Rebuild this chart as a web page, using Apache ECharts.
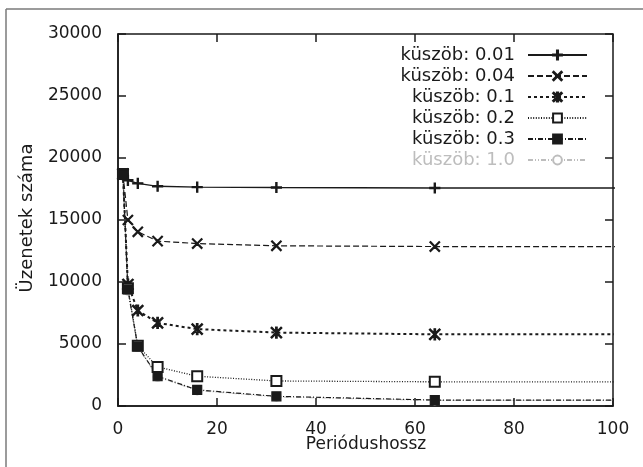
<!DOCTYPE html>
<html lang="hu">
<head>
    <meta charset="UTF-8">
    <title>Üzenetek száma</title>
    <script src="https://cdn.jsdelivr.net/npm/echarts@6/dist/echarts.min.js"></script>
    <style>
        body { margin: 0; background: #fff; }
        #main { width: 643px; height: 467px; }
    </style>
</head>
<body>
<div id="main"></div>
<script type="text/javascript">
// periódushossz (x) - az utolsó pont a 100-as határon túl van, le lesz vágva
let periods = [1, 2, 4, 8, 16, 32, 64, 128];
let names = ['küszöb: 0.01', 'küszöb: 0.04', 'küszöb: 0.1', 'küszöb: 0.2', 'küszöb: 0.3', 'küszöb: 1.0'];
let y001 = [18700, 18200, 17950, 17720, 17650, 17620, 17580, 17580];
let y004 = [18700, 15000, 14050, 13300, 13100, 12920, 12860, 12860];
let y01 = [18700, 9800, 7700, 6700, 6200, 5920, 5780, 5780];
let y02 = [18700, 9500, 4850, 3150, 2400, 2020, 1950, 1950];
let y03 = [18700, 9400, 4800, 2400, 1300, 780, 480, 480];
let y10 = [18700, 9300, 4750, 2350, 1250, 740, 450, 450];
let xTicks = [0, 20, 40, 60, 80, 100];
let yTicks = [0, 5000, 10000, 15000, 20000, 25000, 30000];
let xTitle = 'Periódushossz';
let yTitle = 'Üzenetek száma';

const xMax = 100, yMax = 30000;
const ink = '#1a1a1a';
const pale = '#bdbdbd';
const font = 'DejaVu Sans';
const tickLen = 8;

const plusSym = 'path://M4.4,0H5.6V10H4.4Z M0,4.4H10V5.6H0Z';
const crossSym = 'path://M0.7,0L5,4.3L9.3,0L10,0.7L5.7,5L10,9.3L9.3,10L5,5.7L0.7,10L0,9.3L4.3,5L0,0.7Z';
const starSym = 'path://M0.8,0L5,4.2L9.2,0L10,0.8L5.8,5L10,9.2L9.2,10L5,5.8L0.8,10L0,9.2L4.2,5L0,0.8Z M4.3,0H5.7V10H4.3Z';

function pairs(ys) {
    return periods.map(function (x, i) { return [x, ys[i]]; });
}

function mkSeries(name, ys, color, width, dash, symbol, size) {
    return {
        name: name,
        type: 'line',
        data: pairs(ys),
        clip: true,
        symbol: symbol,
        symbolSize: size,
        symbolKeepAspect: true,
        showAllSymbol: true,
        lineStyle: { color: color, width: width, type: dash },
        itemStyle: { color: color, borderColor: color, borderWidth: 1.2 },
        animation: false
    };
}

let myChart = echarts.init(document.getElementById('main'));
let series = [
    mkSeries(names[5], y10, pale, 1.2, [5, 2, 1, 2, 1, 2], 'emptyCircle', 8),
    mkSeries(names[0], y001, ink, 1.3, 'solid', plusSym, 10),
    mkSeries(names[1], y004, ink, 1.2, [6, 3], crossSym, 10),
    mkSeries(names[2], y01, ink, 2, [3, 3], starSym, 11),
    mkSeries(names[3], y02, ink, 1.3, [1, 1.6], 'emptyRect', 10),
    mkSeries(names[4], y03, ink, 1.2, [5, 2, 1, 2], 'rect', 9)
];

let legendData = names.map(function (n, i) {
    return i === 5 ? { name: n, textStyle: { color: pale } } : { name: n };
});

let frame = [
    { type: 'line', shape: { x1: 6, y1: 9, x2: 643, y2: 9 }, style: { stroke: '#7a7a7a', lineWidth: 1.5 } },
    { type: 'line', shape: { x1: 6, y1: 9, x2: 6, y2: 467 }, style: { stroke: '#7a7a7a', lineWidth: 1.5 } },
    { type: 'text', x: 366, y: 445, style: { text: xTitle, fontFamily: font, fontSize: 17, fill: ink, align: 'center', verticalAlign: 'middle' } },
    { type: 'text', x: 27, y: 218, rotation: Math.PI / 2, style: { text: yTitle, fontFamily: font, fontSize: 18, fill: ink, align: 'center', verticalAlign: 'middle' } }
];

let option = {
    backgroundColor: '#fff',
    animation: false,
    graphic: frame,
    grid: {
        left: 118, top: 34, right: 30, bottom: 61,
        containLabel: false, outerBoundsMode: 'none',
        show: true, borderColor: ink, borderWidth: 1.5, backgroundColor: 'transparent'
    },
    legend: {
        data: legendData,
        orient: 'vertical',
        align: 'right',
        right: 55,
        top: 46,
        padding: 0,
        itemWidth: 59,
        itemHeight: 11,
        itemGap: 3,
        selectedMode: false,
        textStyle: { fontFamily: font, fontSize: 18, color: ink, padding: [0, 8, 0, 0] }
    },
    xAxis: {
        type: 'value',
        min: 0, max: xMax, interval: 20,
        axisLine: { show: true, onZero: false, lineStyle: { color: ink, width: 1.5 } },
        axisTick: { show: false },
        splitLine: { show: false },
        axisLabel: {
            fontFamily: font, fontSize: 17, color: ink, margin: 15,
            formatter: function (v) { return xTicks.indexOf(v) >= 0 ? String(v) : ''; }
        }
    },
    yAxis: {
        type: 'value',
        min: 0, max: yMax, interval: 5000,
        axisLine: { show: true, onZero: false, lineStyle: { color: ink, width: 1.5 } },
        axisTick: { show: false },
        splitLine: { show: false },
        axisLabel: {
            fontFamily: font, fontSize: 17, color: ink, margin: 16,
            formatter: function (v) { return yTicks.indexOf(v) >= 0 ? String(v) : ''; }
        }
    },
    series: series
};
myChart.setOption(option);

// befelé mutató osztásjelek mind a négy oldalon, a tengely skálájából számolva
function tickLine(x1, y1, x2, y2) {
    return { type: 'line', z: 50, shape: { x1: x1, y1: y1, x2: x2, y2: y2 }, style: { stroke: ink, lineWidth: 1.5 } };
}
let ticks = [];
xTicks.forEach(function (v) {
    let b = myChart.convertToPixel({ gridIndex: 0 }, [v, 0]);
    let t = myChart.convertToPixel({ gridIndex: 0 }, [v, yMax]);
    ticks.push(tickLine(b[0], b[1], b[0], b[1] - tickLen));
    ticks.push(tickLine(t[0], t[1], t[0], t[1] + tickLen));
});
yTicks.forEach(function (v) {
    let l = myChart.convertToPixel({ gridIndex: 0 }, [0, v]);
    let r = myChart.convertToPixel({ gridIndex: 0 }, [xMax, v]);
    ticks.push(tickLine(l[0], l[1], l[0] + tickLen, l[1]));
    ticks.push(tickLine(r[0], r[1], r[0] - tickLen, r[1]));
});
myChart.setOption({ graphic: frame.concat(ticks) }, { replaceMerge: ['graphic'] });
</script>
</body>
</html>
